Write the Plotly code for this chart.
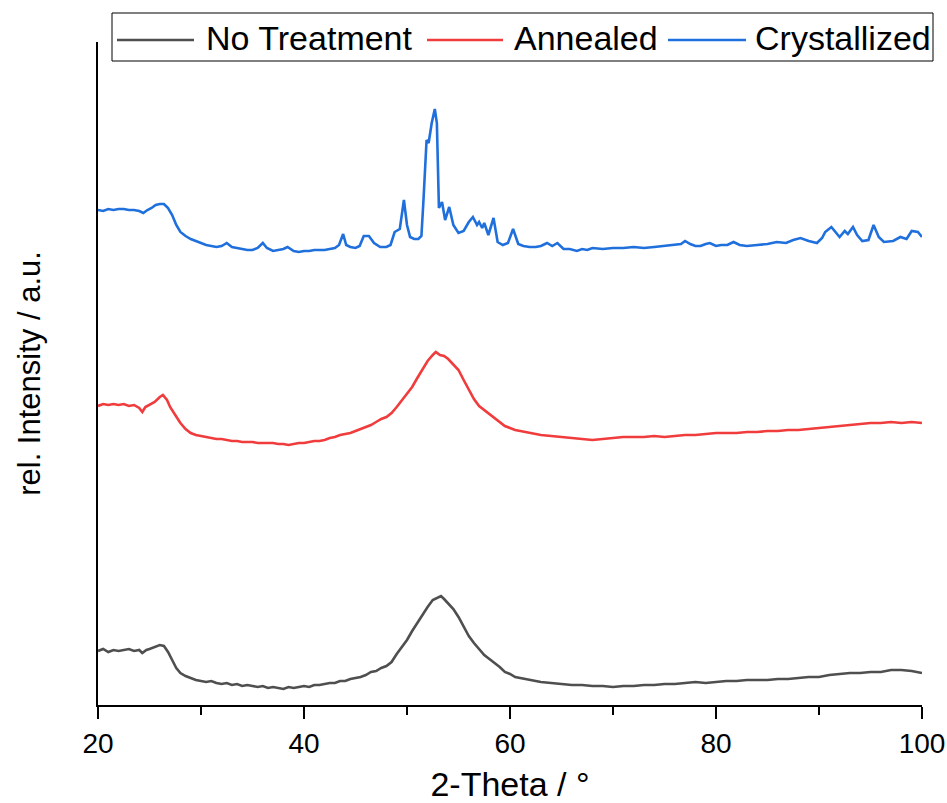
import plotly.graph_objects as go

# ---------------- data ----------------
# intensity in arbitrary units (stacked traces, offset as in the original)
x_none = [20, 20.5, 21, 21.5, 22, 22.5, 23, 23.5, 24, 24.3, 24.7, 25, 25.5, 26, 26.4, 26.8, 27.2, 27.6, 28, 28.5,
          29, 29.5, 30, 30.5, 31, 31.5, 32, 32.5, 33, 33.5, 34, 34.5, 35, 35.5, 36, 36.5, 37, 37.5, 38, 38.5,
          39, 39.5, 40, 40.5, 41, 41.5, 42, 42.5, 43, 43.5, 44, 44.5, 45, 45.5, 46, 46.5, 47, 47.5, 48, 48.5,
          49, 49.5, 50, 50.5, 51, 51.5, 52, 52.5, 53, 53.3, 53.6, 54, 54.5, 55, 55.5, 56, 56.5, 57, 57.5, 58,
          58.5, 59, 59.5, 60, 60.5, 61, 62, 63, 64, 65, 66, 67, 68, 69, 70, 71, 72, 73, 74, 75, 76, 77, 78, 79,
          80, 81, 82, 83, 84, 85, 86, 87, 88, 89, 90, 91, 92, 93, 94, 95, 96, 97, 98, 99, 100]
px_none = [651, 649, 652, 650, 651, 650, 649, 651, 650, 653, 650, 649, 647, 645, 646, 652, 660, 668, 673, 676,
           678, 680, 681, 682, 681, 683, 684, 683, 685, 684, 686, 685, 686, 687, 686, 688, 687, 688, 689, 687,
           688, 687, 686, 687, 685, 685, 684, 683, 683, 681, 681, 679, 678, 677, 675, 672, 671, 668, 666, 662,
           654, 647, 640, 631, 623, 614, 607, 600, 597, 596, 599, 603, 609, 617, 626, 636, 643, 649, 655, 659,
           663, 667, 672, 674, 677, 678, 680, 682, 683, 684, 685, 685, 686, 686, 687, 686, 686, 685, 685, 684,
           684, 683, 682, 683, 682, 681, 681, 680, 680, 680, 679, 679, 678, 677, 677, 675, 674, 673, 673, 672,
           672, 670, 670, 671, 673]

x_ann = [20, 20.5, 21, 21.5, 22, 22.5, 23, 23.5, 24, 24.3, 24.6, 25, 25.5, 26, 26.3, 26.7, 27, 27.5, 28, 28.5,
         29, 29.5, 30, 30.5, 31, 31.5, 32, 32.5, 33, 33.5, 34, 34.5, 35, 35.5, 36, 36.5, 37, 37.5, 38, 38.5,
         39, 39.5, 40, 40.5, 41, 41.5, 42, 42.5, 43, 43.5, 44, 44.5, 45, 45.5, 46, 46.5, 47, 47.5, 48, 48.5,
         49, 49.5, 50, 50.5, 51, 51.5, 52, 52.5, 52.8, 53.2, 53.6, 54, 54.5, 55, 55.5, 56, 56.5, 57, 57.5, 58,
         58.5, 59, 59.5, 60, 60.5, 61, 62, 63, 64, 65, 66, 67, 68, 69, 70, 71, 72, 73, 74, 75, 76, 77, 78, 79,
         80, 81, 82, 83, 84, 85, 86, 87, 88, 89, 90, 91, 92, 93, 94, 95, 96, 97, 98, 99, 100]
px_ann = [406, 404, 405, 404, 405, 404, 406, 405, 408, 412, 407, 405, 402, 397, 395, 400, 407, 415, 423, 429,
          433, 435, 436, 437, 438, 439, 439, 440, 441, 441, 442, 442, 442, 443, 443, 443, 443, 444, 444, 445,
          444, 443, 443, 442, 441, 441, 440, 438, 437, 435, 434, 433, 431, 429, 427, 425, 422, 419, 417, 413,
          407, 400, 394, 387, 378, 369, 361, 355, 352, 355, 356, 359, 364, 370, 380, 390, 399, 406, 410, 414,
          418, 422, 426, 428, 430, 431, 433, 435, 436, 437, 438, 439, 440, 439, 438, 437, 437, 437, 436, 437,
          436, 435, 435, 434, 433, 433, 433, 432, 432, 431, 431, 430, 430, 429, 428, 427, 426, 425, 424, 423,
          423, 422, 423, 422, 423]

x_cry = [20, 20.5, 21, 21.5, 22, 22.5, 23, 23.5, 24, 24.4, 24.8, 25.2, 25.6, 26, 26.4, 26.8, 27.2, 27.6, 28, 28.5,
         29, 29.5, 30, 30.5, 31, 31.5, 32, 32.5, 33, 33.5, 34, 34.5, 35, 35.5, 36, 36.4, 37, 37.5, 38, 38.4,
         39, 39.5, 40, 40.5, 41, 41.5, 42, 42.5, 43, 43.4, 43.8, 44.1, 44.5, 45, 45.4, 45.8, 46.3, 46.8, 47.4, 48,
         48.4, 48.8, 49.3, 49.7, 50.0, 50.3, 50.7, 51.1, 51.4, 51.6, 51.9, 52.1, 52.4, 52.7, 52.9, 53.1, 53.4, 53.7,
         54.1, 54.5, 55, 55.5, 56, 56.4, 56.8, 57, 57.3, 57.5, 57.9, 58.4, 58.8, 59.3, 59.8, 60.3, 60.8, 61.3, 61.9,
         62.5, 63, 63.6, 64.1, 64.6, 65.2, 65.8, 66.5, 67, 67.5, 68, 69, 70, 71, 72, 73, 74, 75, 76, 76.6, 77,
         77.5, 78, 78.5, 79, 79.4, 80, 80.5, 81.1, 81.7, 82.3, 83, 84, 85, 85.9, 86.8, 87.5, 88.2, 89, 89.8, 90.3,
         90.6, 91.2, 91.6, 92, 92.5, 92.8, 93.3, 93.7, 94.2, 94.8, 95.3, 95.8, 96.3, 97.2, 97.9, 98.5, 99, 99.6, 100]
px_cry = [210, 211, 209, 210, 209, 209, 210, 210, 211, 213, 210, 208, 205, 204, 204, 208, 215, 225, 232, 236,
          239, 241, 243, 245, 246, 247, 246, 243, 247, 248, 249, 250, 250, 248, 243, 248, 251, 250, 249, 247,
          251, 252, 251, 251, 250, 250, 250, 249, 248, 245, 234, 245, 247, 248, 246, 236, 236, 243, 247, 247,
          245, 232, 229, 200, 225, 237, 239, 239, 236, 200, 140, 143, 123, 109, 123, 208, 202, 220,
          207, 225, 233, 231, 222, 217, 225, 222, 228, 223, 235, 218, 242, 245, 243, 229, 244, 246, 247,
          247, 246, 243, 246, 243, 249, 249, 251, 249, 250, 248, 249, 248, 248, 247, 248, 247, 246, 245, 244, 241,
          244, 246, 246, 244, 243, 246, 245, 245, 242, 245, 246, 245, 244, 242, 243, 240, 238, 241, 243, 238,
          232, 227, 232, 237, 231, 234, 227, 235, 241, 240, 225, 237, 242, 241, 237, 239, 231, 232, 237]

BASE = 705  # values above are picture rows; intensity = BASE - row
y_none = [BASE - v for v in px_none]
y_ann = [BASE - v for v in px_ann]
y_cry = [BASE - v for v in px_cry]

names = ["No Treatment", "Annealed", "Crystallized"]
colors = ["#4f4f4f", "#f03c3c", "#1f6fdc"]
x_ticks = [20, 40, 60, 80, 100]

# ---------------- figure ----------------
W, H = 947, 803
L, R, T, B = 98, 25, 42, 98
FONT = "Arial, Liberation Sans, Helvetica, sans-serif"

fig = go.Figure()
for xs, ys, nm, c in [(x_none, y_none, names[0], colors[0]),
                      (x_ann, y_ann, names[1], colors[1]),
                      (x_cry, y_cry, names[2], colors[2])]:
    fig.add_trace(go.Scatter(x=xs, y=ys, mode="lines", name=nm,
                             line=dict(color=c, width=2.6), showlegend=False))

def px2x(p):
    return (p - L) / (W - L - R)

def px2y(p):
    return (H - B - p) / (H - T - B)

shapes = [dict(type="rect", xref="paper", yref="paper",
               x0=px2x(112), x1=px2x(933), y0=px2y(61), y1=px2y(13),
               line=dict(color="black", width=1), fillcolor="white", layer="above")]
annotations = []
leg_lines = [(117, 194), (427, 503), (668, 746)]
leg_text_x = [204, 512, 753]
for (a, b), tx, nm, c in zip(leg_lines, leg_text_x, names, colors):
    shapes.append(dict(type="line", xref="paper", yref="paper",
                       x0=px2x(a), x1=px2x(b), y0=px2y(40), y1=px2y(40),
                       line=dict(color=c, width=2.6), layer="above"))
    annotations.append(dict(text=nm, xref="paper", yref="paper", x=px2x(tx), y=px2y(38),
                            xanchor="left", yanchor="middle", showarrow=False,
                            font=dict(family=FONT, size=34, color="black")))

fig.update_layout(
    width=W, height=H,
    margin=dict(l=L, r=R, t=T, b=B, autoexpand=False),
    paper_bgcolor="white", plot_bgcolor="white",
    font=dict(family=FONT, color="black"),
    shapes=shapes, annotations=annotations,
    xaxis=dict(range=[20, 100], tickvals=x_ticks, ticktext=[str(v) for v in x_ticks],
               automargin=False,
               showline=True, linecolor="black", linewidth=2,
               ticks="outside", ticklen=12, tickwidth=2, tickcolor="black",
               minor=dict(dtick=10, tick0=20, ticks="outside", ticklen=8, tickwidth=2, tickcolor="black"),
               showgrid=False, zeroline=False,
               tickfont=dict(family=FONT, size=28, color="black"),
               title=dict(text="2-Theta / °", font=dict(family=FONT, size=34, color="black"), standoff=25)),
    yaxis=dict(range=[0, 663], automargin=False,
               showline=True, linecolor="black", linewidth=2,
               showticklabels=False, ticks="", showgrid=False, zeroline=False,
               title=dict(text="rel. Intensity / a.u.", font=dict(family=FONT, size=31, color="black"),
                          standoff=46)),
)

fig.write_html("out.html")
